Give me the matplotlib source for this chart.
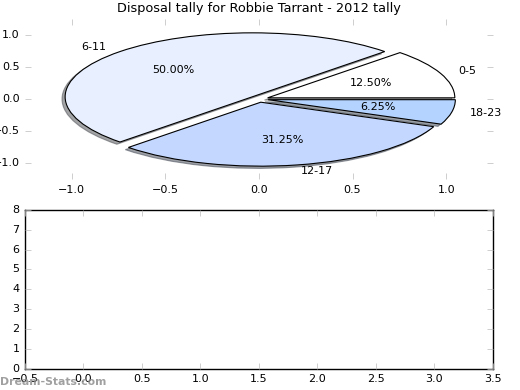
import matplotlib
matplotlib.use("Agg")
import matplotlib.pyplot as plt

plt.style.use("classic")

# disposal ranges and how many games fell in each
ranges = ["0-5", "6-11", "12-17", "18-23"]
games = [2, 8, 5, 1]
colours = ["#ffffff", "#e8f0ff", "#c4d8ff", "#b4d4ff"]
explode = [0.05, 0.05, 0.05, 0.05]

fig = plt.figure(figsize=(5.2, 3.9), dpi=100)
fig.patch.set_facecolor("white")

ax1 = fig.add_axes([0.048, 0.541, 0.900, 0.410])
ax1.pie(games, labels=ranges, colors=colours, explode=explode,
        autopct="%1.2f%%", shadow={"ox": -0.012, "oy": -0.025},
        startangle=0, frame=True,
        textprops={"fontsize": 8}, wedgeprops={"linewidth": 0.8})
ax1.set_aspect("auto")
ax1.set_xlim(-1.25, 1.25)
ax1.set_ylim(-1.25, 1.25)
ax1.set_xticks([-1.0, -0.5, 0.0, 0.5, 1.0])
ax1.set_yticks([-1.0, -0.5, 0.0, 0.5, 1.0])
for s in ax1.spines.values():
    s.set_visible(False)
ax1.tick_params(labelsize=8, color="#bbbbbb", direction="in")
ax1.set_title("Disposal tally for Robbie Tarrant - 2012 tally", fontsize=9.3)

ax2 = fig.add_axes([0.048, 0.054, 0.900, 0.408])
ax2.set_xlim(-0.5, 3.5)
ax2.set_ylim(0, 8)
ax2.tick_params(labelsize=8, color="#bbbbbb", direction="in")

fig.text(0.0, 0.012, "Dream-Stats.com", fontsize=7.8, color="#888888",
         alpha=0.8, fontweight="bold")

fig.savefig("out.png", dpi=100, facecolor="white")
